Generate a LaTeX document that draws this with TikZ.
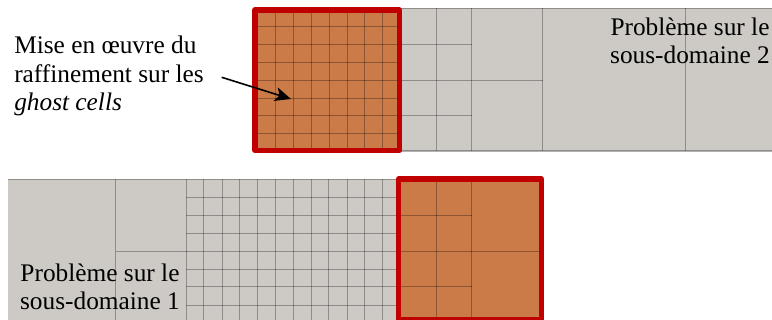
\documentclass[tikz,border=0pt]{standalone}
\usepackage{fontspec}
\setmainfont{Liberation Serif}
\usetikzlibrary{arrows.meta}
\definecolor{meshgray}{HTML}{CDCAC5}
\definecolor{ghostorange}{HTML}{CA7B47}
\definecolor{framered}{HTML}{C00000}

\begin{document}
\begin{tikzpicture}[
    x=0.75pt, y=-0.75pt,
    subdom/.style={fill=meshgray},
    ghost/.style={fill=ghostorange},
    meshline/.style={draw=black, opacity=0.3, line width=1pt},
    redframe/.style={draw=framered, line width=3.8pt, line join=round},
    lbl/.style={inner sep=0pt, font=\fontsize{19}{21.5}\selectfont},
    arrow/.style={-{Stealth[length=12pt, width=10.5pt, inset=3pt]}, line width=1.2pt},
  ]
  \clip (0,0) rectangle (772,320);

  % sous-domaine 2
  \fill[subdom] (400,8.5) rectangle (772,151);
  \fill[ghost] (255,9) rectangle (400,151);
  \foreach \x in {275.5,293.5,311.5,329.5,347.5,364.5,382.5}
    \draw[meshline] (\x,9) -- (\x,151);
  \foreach \y in {26.5,44.5,62.5,80.5,98.5,115.5,133.5}
    \draw[meshline] (255,\y) -- (400,\y);
  \foreach \x in {436.5,471.5,542.5,685.5}
    \draw[meshline] (\x,8.5) -- (\x,151);
  \draw[meshline] (400,8.5) -- (772,8.5);
  \draw[meshline] (400,151) -- (772,151);
  \draw[meshline] (400,44.5) -- (471.5,44.5);
  \draw[meshline] (400,80.5) -- (542.5,80.5);
  \draw[meshline] (400,115.5) -- (471.5,115.5);
  \draw[redframe] (255,10) rectangle (399.5,150.5);

  % sous-domaine 1
  \fill[subdom] (8,179.5) rectangle (398,320);
  \fill[ghost] (398,179.5) rectangle (541,320);
  \foreach \x in {203.5,222.5,239.5,257.5,275.5,293.5,311.5,328.5,347.5,364.5,382.5}
    \draw[meshline] (\x,179.5) -- (\x,320);
  \foreach \y in {197.5,215.5,233.5,251.5,269.5,286.5,305.5}
    \draw[meshline] (186,\y) -- (398,\y);
  \foreach \x in {115.5,186.5}
    \draw[meshline] (\x,179.5) -- (\x,320);
  \draw[meshline] (8,179.5) -- (398,179.5);
  \draw[meshline] (115.5,251.5) -- (186.5,251.5);
  \foreach \x in {436.5,471.5}
    \draw[meshline] (\x,179.5) -- (\x,320);
  \draw[meshline] (398,215.5) -- (471.5,215.5);
  \draw[meshline] (398,251.5) -- (541,251.5);
  \draw[meshline] (398,286.5) -- (471.5,286.5);
  \draw[redframe] (398.5,179) rectangle (541.5,320);

  % la derniere ligne porte la base du noeud
  \node[lbl, align=center, anchor=base] (sd2) at (690,64) {Problème sur le\\sous-domaine 2};
  \node[lbl, align=center, anchor=base] (sd1) at (100,310) {Problème sur le\\sous-domaine 1};
  \node[lbl, align=left, anchor=base west] (raff) at (14,110.7) {Mise en œuvre du\\raffinement sur les\\\textit{ghost cells}};

  \coordinate (arrowstart) at (221.7,77.3);
  \coordinate (arrowtip) at (291,99);
  \draw[arrow] (arrowstart) -- (arrowtip);
\end{tikzpicture}
\end{document}
